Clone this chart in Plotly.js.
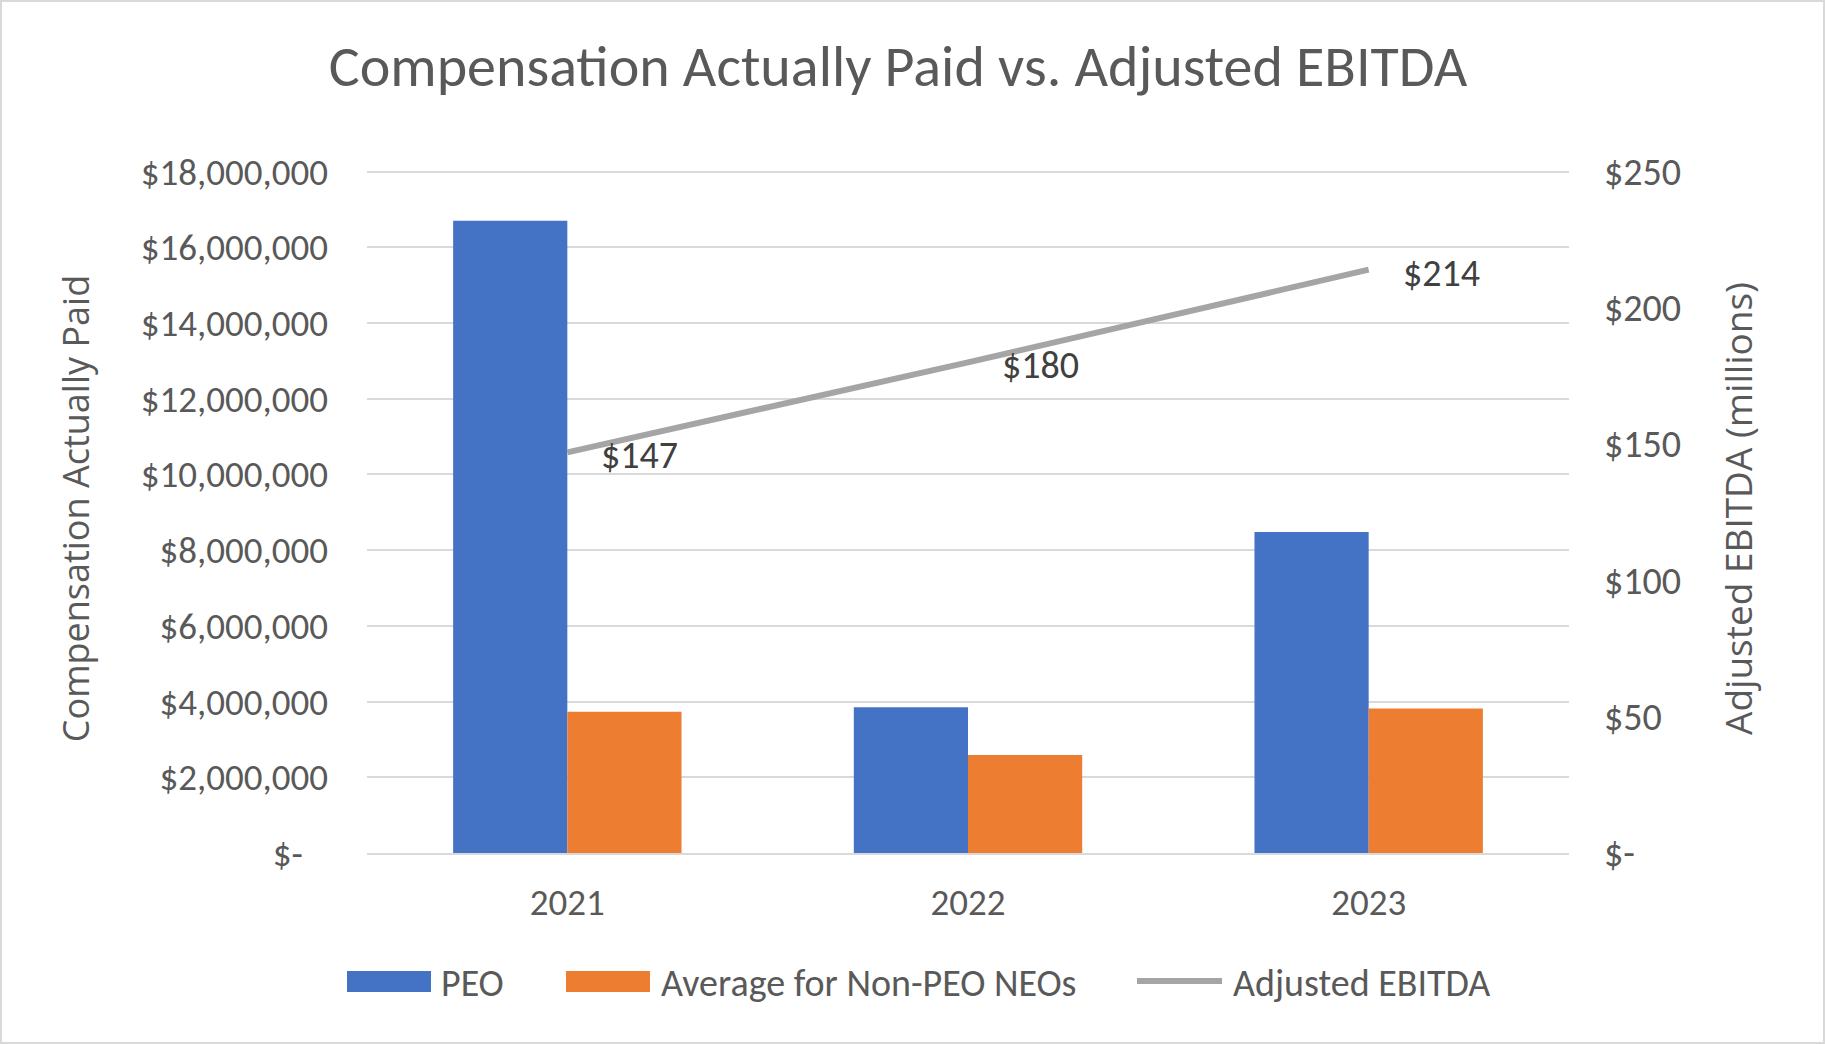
<!DOCTYPE html>
<html>
<head>
<meta charset="utf-8">
<script src="https://cdn.plot.ly/plotly-3.0.1.min.js"></script>
<style>
html,body{margin:0;padding:0;background:#fff;}
#wrap{position:relative;width:1825px;height:1044px;}
#frame{position:absolute;left:0;top:0;width:1825px;height:1044px;box-sizing:border-box;border:2px solid #d9d9d9;pointer-events:none;}
</style>
</head>
<body>
<div id="wrap"><div id="chart"></div><div id="frame"></div></div>
<script>
// ---- data ----
const years = ['2021', '2022', '2023'];
const peo = [16700000, 3850000, 8480000];
const nonPeo = [3730000, 2590000, 3820000];
const ebitda = [147, 180, 214];
const seriesNames = ['PEO', 'Average for Non-PEO NEOs', 'Adjusted EBITDA'];
const seriesColors = ['#4472C4', '#ED7D31', '#A5A5A5'];
const leftTickVals = [0, 2000000, 4000000, 6000000, 8000000, 10000000, 12000000, 14000000, 16000000, 18000000];
const leftTickText = ['$-\u00a0\u00a0\u00a0', '$2,000,000', '$4,000,000', '$6,000,000', '$8,000,000', '$10,000,000', '$12,000,000', '$14,000,000', '$16,000,000', '$18,000,000'];
const rightTickVals = [0, 50, 100, 150, 200, 250];
const rightTickText = ['$-', '$50', '$100', '$150', '$200', '$250'];

const W = 1825, H = 1044;
const leftMax = 18200000;            // a little headroom so the top gridline is drawn
const rightMax = 250 * leftMax / 18000000;
const M = {l: 367, r: 256, t: Math.round(853 - 681 * leftMax / 18000000), b: 191};
const PW = W - M.l - M.r, PH = H - M.t - M.b;
const px = x => (x - M.l) / PW;
const py = y => (H - M.b - y) / PH;

const FONT = 'Carlito, Calibri, Lato, sans-serif';
const TFONT = 'Open Sans, sans-serif';
const TXT = '#595959';

const traces = [
  {type: 'bar', x: years, y: peo, name: seriesNames[0], marker: {color: seriesColors[0]}, hoverinfo: 'skip'},
  {type: 'bar', x: years, y: nonPeo, name: seriesNames[1], marker: {color: seriesColors[1]}, hoverinfo: 'skip'},
  {type: 'scatter', mode: 'lines', x: years, y: ebitda, yaxis: 'y2', name: seriesNames[2],
   line: {color: seriesColors[2], width: 6}, hoverinfo: 'skip'}
];

const annotations = ebitda.map((v, i) => ({
  x: i, y: v, xref: 'x', yref: 'y2', text: '$' + v, showarrow: false,
  xanchor: 'left', yanchor: 'middle', xshift: 32, yshift: -3,
  font: {family: FONT, size: 38, color: '#404040'}
}));

// custom legend (positions in pixels -> paper)
const legY = 981;
const shapes = [
  {type: 'rect', xref: 'paper', yref: 'paper', x0: px(347), x1: px(431), y0: py(legY - 10), y1: py(legY + 11), fillcolor: seriesColors[0], line: {width: 0}},
  {type: 'rect', xref: 'paper', yref: 'paper', x0: px(566), x1: px(650), y0: py(legY - 10), y1: py(legY + 11), fillcolor: seriesColors[1], line: {width: 0}},
  {type: 'line', xref: 'paper', yref: 'paper', x0: px(1137), x1: px(1222), y0: py(legY), y1: py(legY), line: {color: seriesColors[2], width: 6}}
];
[[439, 0], [659, 1], [1231, 2]].forEach(([x, i]) => {
  annotations.push({xref: 'paper', yref: 'paper', x: px(x), y: py(legY + 2), text: seriesNames[i], showarrow: false,
    xanchor: 'left', yanchor: 'middle', font: {family: FONT, size: 38, color: TXT}});
});

const layout = {
  width: W, height: H,
  margin: M,
  paper_bgcolor: '#fff', plot_bgcolor: '#fff',
  showlegend: false,
  barmode: 'group', bargap: 0.43, bargroupgap: 0,
  font: {family: FONT, color: TXT},
  title: {text: 'Compensation Actually Paid vs. Adjusted EBITDA', x: 898 / W, xref: 'container', xanchor: 'center',
          y: 1 - 66 / H, yref: 'container', yanchor: 'middle',
          font: {family: FONT, size: 58, color: TXT}},
  xaxis: {type: 'category', range: [-0.5, 2.5], showgrid: false, showline: true, linecolor: '#d9d9d9', linewidth: 2,
          ticks: '', tickfont: {family: FONT, size: 37, color: TXT}, ticklabelstandoff: 16},
  yaxis: {range: [0, leftMax], tickvals: leftTickVals, ticktext: leftTickText,
          showgrid: true, gridcolor: '#d9d9d9', gridwidth: 2, zeroline: false, showline: false,
          ticks: '', ticklabelstandoff: 38, tickfont: {family: FONT, size: 37, color: TXT},
          title: {text: 'Compensation Actually Paid', standoff: 40, font: {family: TFONT, size: 36, color: TXT}}},
  yaxis2: {overlaying: 'y', side: 'right', range: [0, rightMax], tickvals: rightTickVals, ticktext: rightTickText,
           showgrid: false, zeroline: false, showline: false, ticks: '', ticklabelstandoff: 34,
           tickfont: {family: FONT, size: 38, color: TXT},
           title: {text: 'Adjusted EBITDA (millions)', standoff: 46, font: {family: TFONT, size: 37, color: TXT}}},
  annotations: annotations,
  shapes: shapes
};

Plotly.newPlot('chart', traces, layout, {displayModeBar: false, staticPlot: true});
</script>
</body>
</html>
